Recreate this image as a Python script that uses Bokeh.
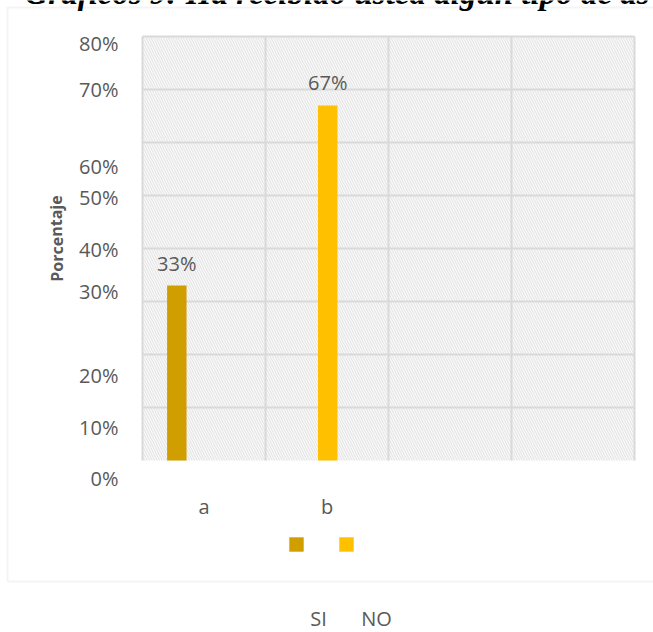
from bokeh.plotting import figure
from bokeh.models import (Range1d, FixedTicker, BoxAnnotation, Label, Legend,
                          LegendItem, ColumnDataSource, LabelSet)
from bokeh.core.properties import value
from bokeh.transform import dodge
from bokeh.embed import file_html
from bokeh.resources import INLINE

# ---------------- data ----------------
categories = ["a", "b"]
cat_pos = [0.5, 1.5]
series = ["SI", "NO"]
si_values = [0.33, 0.0]
no_values = [0.0, 0.67]
colors = ["#D19E00", "#FFC000"]

ytick_labels = ["0%", "10%", "20%", "30%", "40%", "50%", "60%", "70%", "80%"]
ytick_pos = [-0.034, 0.062, 0.160, 0.319, 0.398, 0.496, 0.555, 0.700, 0.787]
grid_levels = [0.1, 0.2, 0.3, 0.4, 0.5, 0.6, 0.7, 0.8]
columns = [0, 1, 2, 3, 4]
y_top = 0.8

title_text = "Gráficos 9: Ha recibido usted algún tipo de as"
y_title = "Porcentaje"

# ---------------- layout / style ----------------
W, H = 653, 632
PA_L, PA_R, PA_T, PA_B = 142, 634, 36, 460      # plot area in pixels
x_per_px = (columns[-1] - columns[0]) / (PA_R - PA_L)
y_per_px = y_top / (PA_B - PA_T)
x_range = Range1d(columns[0] - PA_L * x_per_px, columns[-1] + (W - PA_R) * x_per_px)
y_range = Range1d(0 - (H - PA_B) * y_per_px, y_top + PA_T * y_per_px)

FONT = "Open Sans"
TXT = "#595959"
GRID = "#d9d9d9"
offsets = [-0.221, 0.006]
bar_w = 0.158

p = figure(width=W, height=H, output_backend="svg", toolbar_location=None,
           x_range=x_range, y_range=y_range,
           min_border=0, outline_line_color=None,
           background_fill_color="white", border_fill_color="white")
p.grid.visible = False

# outer chart border
p.add_layout(BoxAnnotation(left=7, right=W + 40, top=7, bottom=581,
                           left_units="canvas", right_units="canvas",
                           top_units="canvas", bottom_units="canvas",
                           fill_alpha=0, line_color=GRID, line_width=2,
                           level="image"))

# textured plot area
p.add_layout(BoxAnnotation(left=columns[0], right=columns[-1], bottom=0, top=y_top,
                           fill_color="#f2f2f2", hatch_pattern="\\",
                           hatch_color="#d2d2d2", hatch_alpha=0.5,
                           hatch_scale=5, hatch_weight=1.2,
                           line_color=None, level="image"))

# gridlines (plot-area only)
p.segment(x0=[columns[0]] * len(grid_levels), y0=grid_levels,
          x1=[columns[-1]] * len(grid_levels), y1=grid_levels,
          line_color=GRID, line_width=2)
p.segment(x0=columns, y0=[0] * len(columns), x1=columns, y1=[y_top] * len(columns),
          line_color=GRID, line_width=2)

src = ColumnDataSource(data=dict(x=cat_pos, SI=si_values, NO=no_values))
renderers = []
for s, off, c in zip(series, offsets, colors):
    r = p.vbar(x=dodge("x", off, range=p.x_range), top=s, width=bar_w,
               source=src, fill_color=c, line_color=None)
    renderers.append(r)

# data labels
lx, ly, lt = [], [], []
for vals, off in zip([si_values, no_values], offsets):
    for pos, v in zip(cat_pos, vals):
        if v > 0:
            lx.append(pos + off)
            ly.append(v)
            lt.append(f"{v:.0%}")
p.add_layout(LabelSet(x="x", y="y", text="t",
                      source=ColumnDataSource(data=dict(x=lx, y=ly, t=lt)),
                      text_align="center", text_baseline="alphabetic",
                      y_offset=15, text_font=value(FONT),
                      text_font_size=value("20px"), text_color=TXT))

# axes (drawn at the plot-area edges)
p.yaxis.fixed_location = columns[0]
p.yaxis.ticker = FixedTicker(ticks=ytick_pos)
p.yaxis.major_label_overrides = dict(zip(ytick_pos, ytick_labels))
p.yaxis.major_label_standoff = 24
p.xaxis.fixed_location = 0
p.xaxis.ticker = FixedTicker(ticks=cat_pos)
p.xaxis.major_label_overrides = dict(zip(cat_pos, categories))
p.xaxis.major_label_standoff = 32
for ax in (p.xaxis, p.yaxis):
    ax.axis_line_color = None
    ax.major_tick_line_color = None
    ax.minor_tick_line_color = None
    ax.major_tick_out = 0
    ax.major_tick_in = 0
    ax.major_label_text_font = FONT
    ax.major_label_text_font_size = "20px"
    ax.major_label_text_color = TXT

p.add_layout(Label(x=56, y=238, x_units="canvas", y_units="canvas",
                   text=y_title, angle=1.5708, text_align="center",
                   text_baseline="middle", text_font=FONT,
                   text_font_size="16px", text_font_style="bold",
                   text_color=TXT))

# legend (squares) and its names
legend = Legend(items=[LegendItem(label=value(""), renderers=[renderers[0]]),
                       LegendItem(label=value(""), renderers=[renderers[1]])],
                orientation="horizontal", location=(287, 79),
                glyph_width=18, glyph_height=18, label_width=0,
                label_height=18, label_standoff=0, spacing=32, padding=0,
                margin=0, border_line_color=None, background_fill_alpha=0)
p.add_layout(legend)
for name, xs in zip(series, [318, 376]):
    p.add_layout(Label(x=xs, y=618, x_units="canvas", y_units="canvas",
                       text=name, text_align="center",
                       text_baseline="alphabetic", text_font=FONT,
                       text_font_size="20px", text_color=TXT))

# title, cut off by the top edge as in the original
p.add_layout(Label(x=24, y=-8, x_units="canvas", y_units="canvas",
                   text=title_text, text_font="Liberation Serif",
                   text_font_style="bold italic", text_font_size="33px",
                   text_color="black", text_baseline="alphabetic"))

open("out.html", "w").write(file_html(p, INLINE))
